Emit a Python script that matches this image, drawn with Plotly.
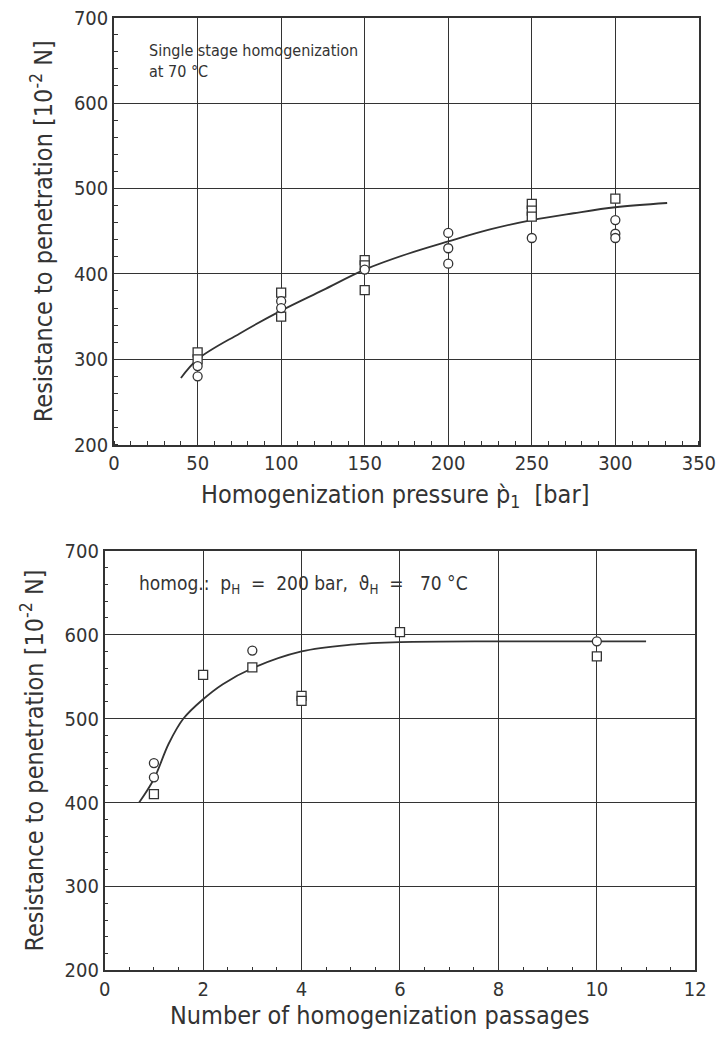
import plotly.graph_objects as go

# ---------------- data: top chart ----------------
p_sq_x = [50, 50, 100, 100, 150, 150, 150, 250, 250, 250, 300]
p_sq_y = [308, 300, 378, 350, 416, 410, 381, 482, 474, 467, 488]
p_ci_x = [50, 50, 100, 100, 150, 200, 200, 200, 250, 300, 300, 300]
p_ci_y = [292, 280, 368, 360, 405, 448, 430, 412, 442, 463, 447, 442]
p_fit_x = [40, 50, 75, 100, 125, 150, 175, 200, 225, 250, 275, 300, 331]
p_fit_y = [278, 300, 330, 357, 381, 405, 423, 438, 452, 463, 471, 478, 483]

# ---------------- data: bottom chart ----------------
n_sq_x = [1, 2, 3, 4, 4, 6, 10]
n_sq_y = [410, 552, 561, 527, 521, 603, 574]
n_ci_x = [1, 1, 3, 10]
n_ci_y = [447, 430, 581, 592]
n_fit_x = [0.7, 1.0, 1.3, 1.6, 2.0, 2.4, 3.0, 4.0, 5.0, 6.0, 8.0, 11.0]
n_fit_y = [400, 428, 470, 500, 523, 541, 560, 580, 588, 591, 592, 592]

y_ticks = [200, 300, 400, 500, 600, 700]
p_ticks = [0, 50, 100, 150, 200, 250, 300, 350]
n_ticks = [0, 2, 4, 6, 8, 10, 12]

INK = "#333333"
FONT = "Liberation Sans Narrow, DejaVu Sans Condensed, Roboto Condensed, Arial Narrow, Liberation Sans, sans-serif"

fig = go.Figure()

def add(x, y, xa, ya, sym):
    fig.add_trace(go.Scatter(x=x, y=y, xaxis=xa, yaxis=ya, mode="markers",
                             marker=dict(symbol=sym, size=9, color="white",
                                         line=dict(color=INK, width=1.3)),
                             showlegend=False, cliponaxis=False))

fig.add_trace(go.Scatter(x=p_fit_x, y=p_fit_y, xaxis="x", yaxis="y", mode="lines",
                         line=dict(color=INK, width=1.8, shape="spline"), showlegend=False))
add(p_sq_x, p_sq_y, "x", "y", "square")
add(p_ci_x, p_ci_y, "x", "y", "circle")

fig.add_trace(go.Scatter(x=n_fit_x, y=n_fit_y, xaxis="x2", yaxis="y2", mode="lines",
                         line=dict(color=INK, width=1.8, shape="spline"), showlegend=False))
add(n_sq_x, n_sq_y, "x2", "y2", "square")
add(n_ci_x, n_ci_y, "x2", "y2", "circle")

ax_common = dict(showline=True, linecolor=INK, linewidth=1.6, mirror=True,
                 showgrid=True, gridcolor=INK, gridwidth=1.4, zeroline=False,
                 automargin=False,
                 ticks="", tickfont=dict(family=FONT, size=20, color=INK),
                 minor=dict(ticks="inside", ticklen=4, tickcolor=INK, showgrid=False))

TFONT = dict(family=FONT, size=25, color=INK)

fig.update_layout(
    width=722, height=1039,
    margin=dict(l=0, r=0, t=0, b=0, autoexpand=False),
    plot_bgcolor="white", paper_bgcolor="white",
    font=dict(family=FONT, color=INK),
    xaxis=dict(domain=[0.158, 0.968], anchor="y", range=[0, 350],
               tickvals=p_ticks, ticktext=[str(v) for v in p_ticks],
               minor_dtick=10, **ax_common),
    yaxis=dict(domain=[0.572, 0.983], anchor="x", range=[200, 700],
               tickvals=y_ticks,
               title=dict(text="Resistance to penetration [10<sup>-2</sup> N]",
                          font=TFONT, standoff=14),
               minor_dtick=20, **ax_common),
    xaxis2=dict(domain=[0.145, 0.963], anchor="y2", range=[0, 12],
                tickvals=n_ticks,
                minor_dtick=0.5, **ax_common),
    yaxis2=dict(domain=[0.066, 0.470], anchor="x2", range=[200, 700],
                tickvals=y_ticks,
                title=dict(text="Resistance to penetration [10<sup>-2</sup> N]",
                           font=TFONT, standoff=14),
                minor_dtick=20, **ax_common),
    annotations=[
        dict(text="Single stage homogenization<br>at 70 °C", xref="paper", yref="paper",
             x=0.203, y=0.962, xanchor="left", yanchor="top", showarrow=False, align="left",
             font=dict(family=FONT, size=16, color=INK)),
        dict(text="homog.:  p<sub>H</sub>  =  200 bar,  ϑ<sub>H</sub>  =   70 °C", xref="paper", yref="paper",
             x=0.19, y=0.451, xanchor="left", yanchor="top", showarrow=False, align="left",
             font=dict(family=FONT, size=19, color=INK)),
        dict(text="Homogenization pressure p̀<sub>1</sub>  [bar]", xref="paper", yref="paper",
             x=0.547, y=0.523, xanchor="center", yanchor="middle", showarrow=False,
             font=TFONT),
        dict(text="Number of homogenization passages", xref="paper", yref="paper",
             x=0.527, y=0.023, xanchor="center", yanchor="middle", showarrow=False,
             font=TFONT),
    ],
)

fig.write_html("out.html", post_script="document.body.style.margin='0';",
               config={"displayModeBar": False})
